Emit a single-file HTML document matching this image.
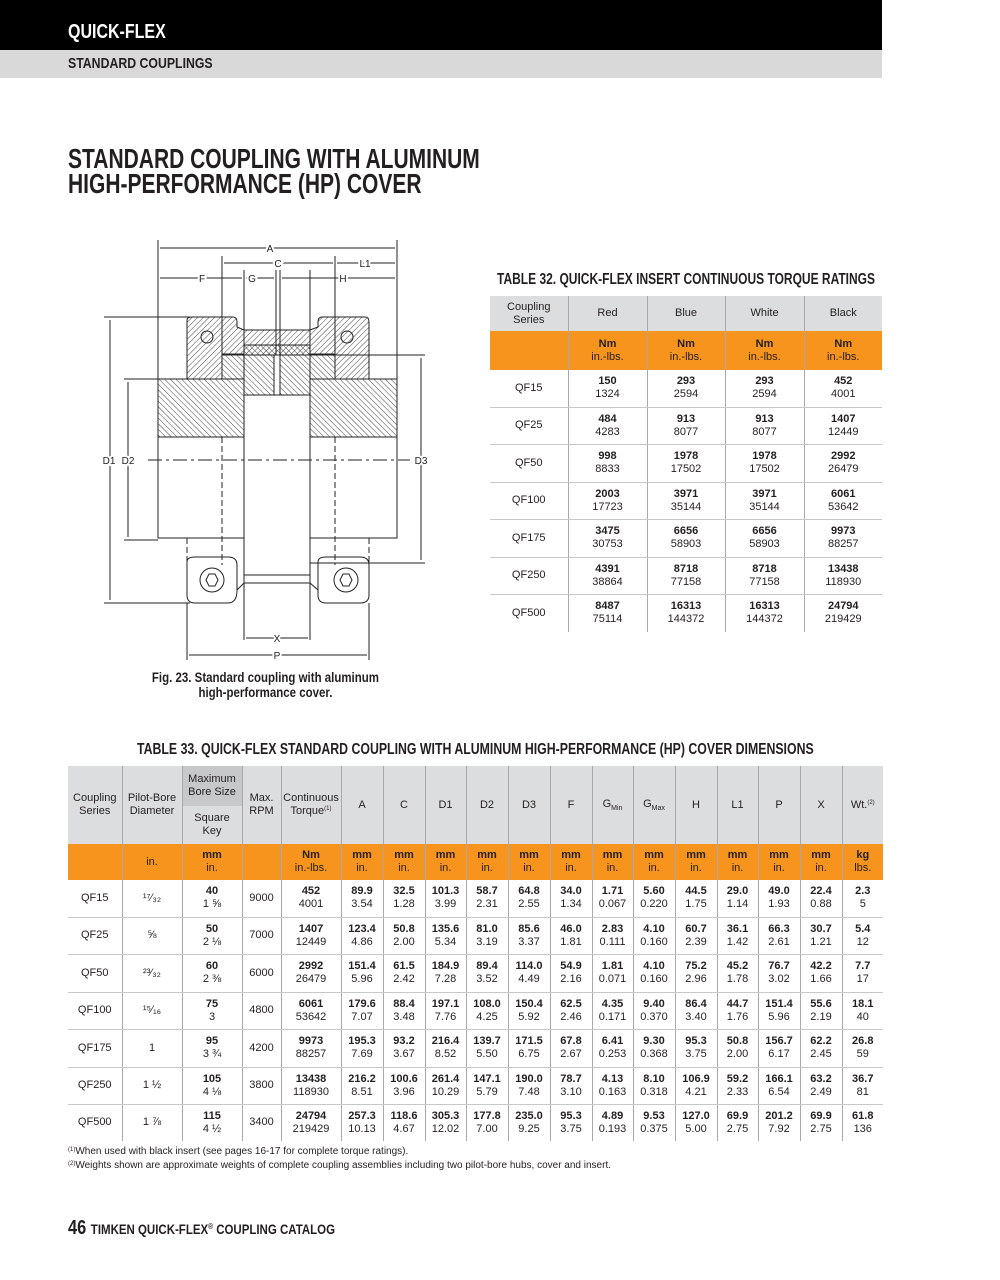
<!DOCTYPE html>
<html><head><meta charset="utf-8"><style>
*{margin:0;padding:0;box-sizing:border-box}
body{width:1000px;height:1280px;background:#fff;position:relative;font-family:"Liberation Sans Narrow","Liberation Sans",sans-serif;color:#231f20;overflow:hidden}
.abs{position:absolute}
.hb{left:0;top:0;width:882px;height:50px;background:#000}
.hg{left:0;top:50px;width:882px;height:28px;background:#d9d9d9}
.cond{display:inline-block;transform-origin:left center;transform:scaleX(.82);white-space:nowrap;font-weight:bold}
table{border-collapse:collapse;table-layout:fixed;position:absolute}
td{text-align:center;vertical-align:middle;font-size:11px;line-height:13px;padding:0;overflow:hidden;white-space:nowrap}
td+td{border-left:1px solid #a7a9ac}
tr.g td{background:#dcddde}
tr.o td{background:#f7941d}
tr.b td{border-bottom:1px solid #c7c8ca}
b{font-weight:bold}
sup{font-size:6px;vertical-align:top;line-height:8px}
sub{font-size:7px;vertical-align:baseline;position:relative;top:3px}
.fn{font-size:10px;left:68px}
</style></head><body>
<div class="abs hb"></div>
<div class="abs hg"></div>
<div class="abs" style="left:68px;top:21px;color:#fff;font-size:20px"><span class="cond" style="transform:scaleX(.8)">QUICK-FLEX</span></div>
<div class="abs" style="left:68px;top:55px;font-size:15px"><span class="cond">STANDARD COUPLINGS</span></div>
<div class="abs" style="left:68px;top:146px;font-size:28px;line-height:25px"><span class="cond" style="transform:scaleX(.75)">STANDARD COUPLING WITH ALUMINUM<br>HIGH-PERFORMANCE (HP) COVER</span></div>

<svg class="abs" style="left:90px;top:230px" width="360" height="440" viewBox="90 230 360 440">
<defs>
<pattern id="h" width="4" height="4" patternUnits="userSpaceOnUse" patternTransform="rotate(45)"><line x1="0" y1="0" x2="0" y2="4" stroke="#444" stroke-width="1"/></pattern>
<pattern id="h2" width="4" height="4" patternUnits="userSpaceOnUse" patternTransform="rotate(-45)"><line x1="0" y1="0" x2="0" y2="4" stroke="#444" stroke-width="1"/></pattern>
</defs>
<g stroke="#222" fill="none" stroke-width="1">
<path d="M187 320 Q187 317 192 317 L233 317 Q237 317 237 322 L237 327 L244 330 L310 330 L318 327 L318 322 Q318 317 322 317 L365 317 Q369 317 369 322 L369 379 L335 379 L335 355 L311 355 L244 355 L222 355 L222 379 L187 379 Z" fill="url(#h)"/>
<rect x="244" y="345" width="66" height="10" fill="url(#h2)"/>
<rect x="158" y="379" width="86" height="58" fill="url(#h2)"/>
<rect x="310" y="379" width="87" height="58" fill="url(#h2)"/>
<rect x="222" y="354" width="22" height="25" fill="url(#h2)"/>
<rect x="310" y="354" width="25" height="25" fill="url(#h2)"/>
<rect x="244" y="355" width="30" height="40" fill="url(#h2)"/>
<rect x="280" y="355" width="30" height="40" fill="url(#h2)"/>
<path d="M158 437 L158 538 L244 538 M397 437 L397 538 L310 538"/>
<rect x="244" y="395" width="66" height="180"/>
<path d="M187 538 L187 573 M369 538 L369 573 M222 437 L222 565 M335 437 L335 565" stroke-dasharray="6 3"/>
<path d="M187 562 Q187 557 195 557 L228 557 Q237 557 237 565 L237 590 Q237 603 228 603 L195 603 Q187 603 187 595 Z"/>
<path d="M318 562 Q318 557 326 557 L360 557 Q369 557 369 565 L369 595 Q369 603 360 603 L326 603 Q318 603 318 595 Z"/>
<path d="M237 590 L244 583 L310 583 L318 590"/>
<circle cx="212" cy="580" r="12"/><polygon points="206,580 209,574 215,574 218,580 215,586 209,586"/>
<circle cx="346" cy="580" r="12"/><polygon points="340,580 343,574 349,574 352,580 349,586 343,586"/>
<circle cx="207" cy="337" r="6"/><circle cx="347" cy="337" r="6"/>
<line x1="148" y1="460" x2="410" y2="460" stroke-dasharray="14 4 3 4"/>
<path d="M158 240 L158 379 M397 240 L397 379 M222 256 L222 379 M335 256 L335 379 M244 270 L244 640 M310 270 L310 640 M276 270 L276 355 M280 270 L280 355 M187 603 L187 660 M369 603 L369 660"/>
<path d="M104 317 L190 317 M124 379 L158 379 M124 540 L158 540 M104 603 L190 603 M310 355 L425 355 M310 563 L425 563"/>
<path d="M110 320 L110 600 M128 382 L128 537 M421 358 L421 560 M160 248 L395 248 M224 263 L333 263 M337 263 L395 263 M160 278 L242 278 M246 278 L274 278 M282 278 L395 278 M246 638 L308 638 M189 655 L367 655"/>
</g>
<g font-family="Liberation Sans,sans-serif" font-size="10" fill="#222" text-anchor="middle">
<text x="270" y="252" style="paint-order:stroke" stroke="#fff" stroke-width="4">A</text>
<text x="278" y="267" stroke="#fff" stroke-width="4" style="paint-order:stroke">C</text>
<text x="365" y="267" stroke="#fff" stroke-width="4" style="paint-order:stroke">L1</text>
<text x="202" y="282" stroke="#fff" stroke-width="4" style="paint-order:stroke">F</text>
<text x="252" y="282" stroke="#fff" stroke-width="4" style="paint-order:stroke">G</text>
<text x="343" y="282" stroke="#fff" stroke-width="4" style="paint-order:stroke">H</text>
<text x="109" y="464" stroke="#fff" stroke-width="4" style="paint-order:stroke">D1</text>
<text x="128" y="464" stroke="#fff" stroke-width="4" style="paint-order:stroke">D2</text>
<text x="421" y="464" stroke="#fff" stroke-width="4" style="paint-order:stroke">D3</text>
<text x="277" y="642" stroke="#fff" stroke-width="4" style="paint-order:stroke">X</text>
<text x="277" y="659" stroke="#fff" stroke-width="4" style="paint-order:stroke">P</text>
</g>
</svg>
<div class="abs" style="left:110px;top:670px;width:310px;text-align:center;font-size:14px;line-height:15px"><span class="cond" style="transform-origin:center">Fig. 23. Standard coupling with aluminum<br>high-performance cover.</span></div>

<div class="abs" style="left:497px;top:271px;font-size:16px"><span class="cond" style="transform:scaleX(.75)">TABLE 32. QUICK-FLEX INSERT CONTINUOUS TORQUE RATINGS</span></div>
<table style="left:490px;top:296px;width:392px">
<colgroup><col style="width:78px"><col style="width:79px"><col style="width:78px"><col style="width:79px"><col style="width:78px"></colgroup>
<tr class="g" style="height:35px"><td>Coupling<br>Series</td><td>Red</td><td>Blue</td><td>White</td><td>Black</td></tr>
<tr class="o" style="height:39px"><td></td><td><b>Nm</b><br>in.-lbs.</td><td><b>Nm</b><br>in.-lbs.</td><td><b>Nm</b><br>in.-lbs.</td><td><b>Nm</b><br>in.-lbs.</td></tr>
<tr class="b" style="height:37px"><td>QF15</td><td><b>150</b><br>1324</td><td><b>293</b><br>2594</td><td><b>293</b><br>2594</td><td><b>452</b><br>4001</td></tr>
<tr class="b" style="height:37px"><td>QF25</td><td><b>484</b><br>4283</td><td><b>913</b><br>8077</td><td><b>913</b><br>8077</td><td><b>1407</b><br>12449</td></tr>
<tr class="b" style="height:38px"><td>QF50</td><td><b>998</b><br>8833</td><td><b>1978</b><br>17502</td><td><b>1978</b><br>17502</td><td><b>2992</b><br>26479</td></tr>
<tr class="b" style="height:37px"><td>QF100</td><td><b>2003</b><br>17723</td><td><b>3971</b><br>35144</td><td><b>3971</b><br>35144</td><td><b>6061</b><br>53642</td></tr>
<tr class="b" style="height:38px"><td>QF175</td><td><b>3475</b><br>30753</td><td><b>6656</b><br>58903</td><td><b>6656</b><br>58903</td><td><b>9973</b><br>88257</td></tr>
<tr class="b" style="height:37px"><td>QF250</td><td><b>4391</b><br>38864</td><td><b>8718</b><br>77158</td><td><b>8718</b><br>77158</td><td><b>13438</b><br>118930</td></tr>
<tr style="height:38px"><td>QF500</td><td><b>8487</b><br>75114</td><td><b>16313</b><br>144372</td><td><b>16313</b><br>144372</td><td><b>24794</b><br>219429</td></tr>
</table>

<div class="abs" style="left:137px;top:741px;font-size:16px"><span class="cond" style="transform:scaleX(.77)">TABLE 33. QUICK-FLEX STANDARD COUPLING WITH ALUMINUM HIGH-PERFORMANCE (HP) COVER DIMENSIONS</span></div>
<table style="left:68px;top:766px;width:815px">
<colgroup><col style="width:54px"><col style="width:60px"><col style="width:60px"><col style="width:39px"><col style="width:60px"><col style="width:42px"><col style="width:42px"><col style="width:41px"><col style="width:42px"><col style="width:42px"><col style="width:42px"><col style="width:41px"><col style="width:42px"><col style="width:42px"><col style="width:41px"><col style="width:42px"><col style="width:42px"><col style="width:41px"></colgroup>
<tr class="g" style="height:40px"><td rowspan="2">Coupling<br>Series</td><td rowspan="2">Pilot-Bore<br>Diameter</td><td style="background:#c7c8ca">Maximum<br>Bore Size</td><td rowspan="2">Max.<br>RPM</td><td rowspan="2">Continuous<br>Torque<sup>(1)</sup></td><td rowspan="2">A</td><td rowspan="2">C</td><td rowspan="2">D1</td><td rowspan="2">D2</td><td rowspan="2">D3</td><td rowspan="2">F</td><td rowspan="2">G<sub>Min</sub></td><td rowspan="2">G<sub>Max</sub></td><td rowspan="2">H</td><td rowspan="2">L1</td><td rowspan="2">P</td><td rowspan="2">X</td><td rowspan="2">Wt.<sup>(2)</sup></td></tr>
<tr class="g" style="height:38px"><td style="border-left:1px solid #a7a9ac">Square<br>Key</td></tr>
<tr class="o" style="height:36px"><td></td><td>in.</td><td><b>mm</b><br>in.</td><td></td><td><b>Nm</b><br>in.-lbs.</td><td><b>mm</b><br>in.</td><td><b>mm</b><br>in.</td><td><b>mm</b><br>in.</td><td><b>mm</b><br>in.</td><td><b>mm</b><br>in.</td><td><b>mm</b><br>in.</td><td><b>mm</b><br>in.</td><td><b>mm</b><br>in.</td><td><b>mm</b><br>in.</td><td><b>mm</b><br>in.</td><td><b>mm</b><br>in.</td><td><b>mm</b><br>in.</td><td><b>kg</b><br>lbs.</td></tr>
<tr class="b" style="height:37px"><td>QF15</td><td>¹⁷⁄₃₂</td><td><b>40</b><br>1 ⅝</td><td>9000</td><td><b>452</b><br>4001</td><td><b>89.9</b><br>3.54</td><td><b>32.5</b><br>1.28</td><td><b>101.3</b><br>3.99</td><td><b>58.7</b><br>2.31</td><td><b>64.8</b><br>2.55</td><td><b>34.0</b><br>1.34</td><td><b>1.71</b><br>0.067</td><td><b>5.60</b><br>0.220</td><td><b>44.5</b><br>1.75</td><td><b>29.0</b><br>1.14</td><td><b>49.0</b><br>1.93</td><td><b>22.4</b><br>0.88</td><td><b>2.3</b><br>5</td></tr>
<tr class="b" style="height:37px"><td>QF25</td><td>⅝</td><td><b>50</b><br>2 ⅛</td><td>7000</td><td><b>1407</b><br>12449</td><td><b>123.4</b><br>4.86</td><td><b>50.8</b><br>2.00</td><td><b>135.6</b><br>5.34</td><td><b>81.0</b><br>3.19</td><td><b>85.6</b><br>3.37</td><td><b>46.0</b><br>1.81</td><td><b>2.83</b><br>0.111</td><td><b>4.10</b><br>0.160</td><td><b>60.7</b><br>2.39</td><td><b>36.1</b><br>1.42</td><td><b>66.3</b><br>2.61</td><td><b>30.7</b><br>1.21</td><td><b>5.4</b><br>12</td></tr>
<tr class="b" style="height:38px"><td>QF50</td><td>²³⁄₃₂</td><td><b>60</b><br>2 ⅜</td><td>6000</td><td><b>2992</b><br>26479</td><td><b>151.4</b><br>5.96</td><td><b>61.5</b><br>2.42</td><td><b>184.9</b><br>7.28</td><td><b>89.4</b><br>3.52</td><td><b>114.0</b><br>4.49</td><td><b>54.9</b><br>2.16</td><td><b>1.81</b><br>0.071</td><td><b>4.10</b><br>0.160</td><td><b>75.2</b><br>2.96</td><td><b>45.2</b><br>1.78</td><td><b>76.7</b><br>3.02</td><td><b>42.2</b><br>1.66</td><td><b>7.7</b><br>17</td></tr>
<tr class="b" style="height:37px"><td>QF100</td><td>¹⁵⁄₁₆</td><td><b>75</b><br>3</td><td>4800</td><td><b>6061</b><br>53642</td><td><b>179.6</b><br>7.07</td><td><b>88.4</b><br>3.48</td><td><b>197.1</b><br>7.76</td><td><b>108.0</b><br>4.25</td><td><b>150.4</b><br>5.92</td><td><b>62.5</b><br>2.46</td><td><b>4.35</b><br>0.171</td><td><b>9.40</b><br>0.370</td><td><b>86.4</b><br>3.40</td><td><b>44.7</b><br>1.76</td><td><b>151.4</b><br>5.96</td><td><b>55.6</b><br>2.19</td><td><b>18.1</b><br>40</td></tr>
<tr class="b" style="height:38px"><td>QF175</td><td>1</td><td><b>95</b><br>3 ¾</td><td>4200</td><td><b>9973</b><br>88257</td><td><b>195.3</b><br>7.69</td><td><b>93.2</b><br>3.67</td><td><b>216.4</b><br>8.52</td><td><b>139.7</b><br>5.50</td><td><b>171.5</b><br>6.75</td><td><b>67.8</b><br>2.67</td><td><b>6.41</b><br>0.253</td><td><b>9.30</b><br>0.368</td><td><b>95.3</b><br>3.75</td><td><b>50.8</b><br>2.00</td><td><b>156.7</b><br>6.17</td><td><b>62.2</b><br>2.45</td><td><b>26.8</b><br>59</td></tr>
<tr class="b" style="height:37px"><td>QF250</td><td>1 ½</td><td><b>105</b><br>4 ⅛</td><td>3800</td><td><b>13438</b><br>118930</td><td><b>216.2</b><br>8.51</td><td><b>100.6</b><br>3.96</td><td><b>261.4</b><br>10.29</td><td><b>147.1</b><br>5.79</td><td><b>190.0</b><br>7.48</td><td><b>78.7</b><br>3.10</td><td><b>4.13</b><br>0.163</td><td><b>8.10</b><br>0.318</td><td><b>106.9</b><br>4.21</td><td><b>59.2</b><br>2.33</td><td><b>166.1</b><br>6.54</td><td><b>63.2</b><br>2.49</td><td><b>36.7</b><br>81</td></tr>
<tr style="height:37px"><td>QF500</td><td>1 ⅞</td><td><b>115</b><br>4 ½</td><td>3400</td><td><b>24794</b><br>219429</td><td><b>257.3</b><br>10.13</td><td><b>118.6</b><br>4.67</td><td><b>305.3</b><br>12.02</td><td><b>177.8</b><br>7.00</td><td><b>235.0</b><br>9.25</td><td><b>95.3</b><br>3.75</td><td><b>4.89</b><br>0.193</td><td><b>9.53</b><br>0.375</td><td><b>127.0</b><br>5.00</td><td><b>69.9</b><br>2.75</td><td><b>201.2</b><br>7.92</td><td><b>69.9</b><br>2.75</td><td><b>61.8</b><br>136</td></tr>
</table>
<div class="abs fn" style="top:1146px"><sup>(1)</sup>When used with black insert (see pages 16-17 for complete torque ratings).</div>
<div class="abs fn" style="top:1160px"><sup>(2)</sup>Weights shown are approximate weights of complete coupling assemblies including two pilot-bore hubs, cover and insert.</div>
<div class="abs" style="left:68px;top:1217px;font-size:20px"><span class="cond">46 <span style="font-size:14px">TIMKEN QUICK-FLEX<span style="font-size:8px;position:relative;top:-5px">®</span> COUPLING CATALOG</span></span></div>
</body></html>
